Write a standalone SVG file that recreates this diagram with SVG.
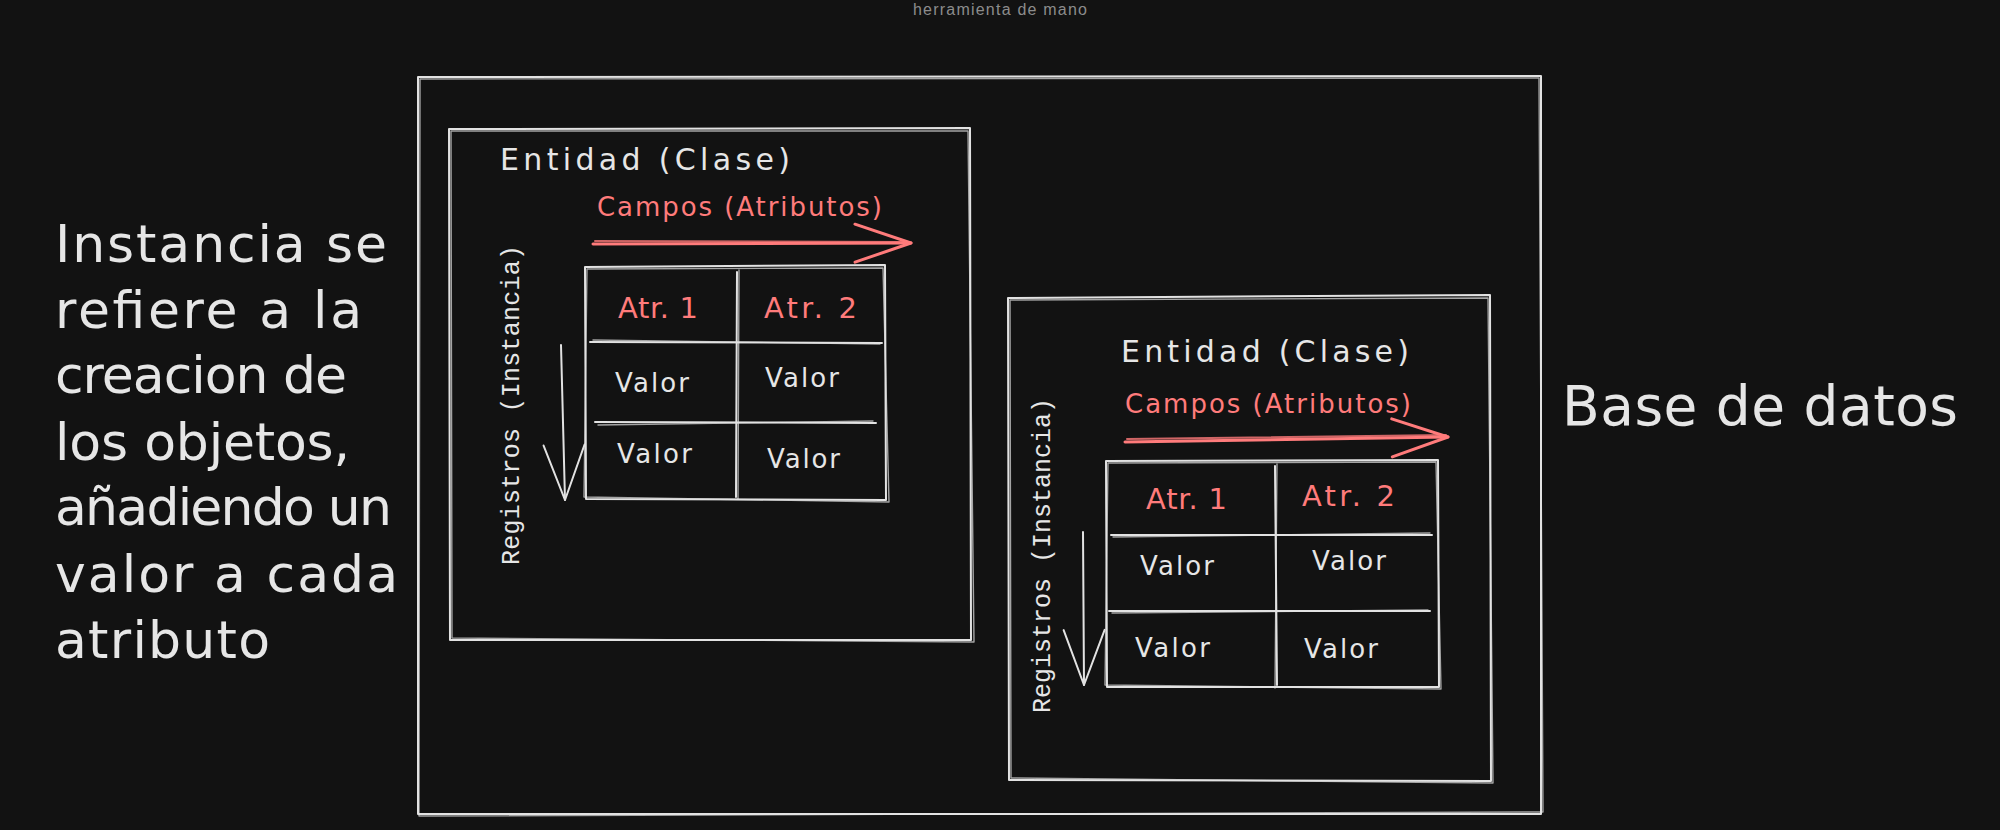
<svg xmlns="http://www.w3.org/2000/svg" width="2000" height="830" viewBox="0 0 2000 830">
<style>
.sk{fill:none;stroke:#e2e2e2;stroke-width:2;stroke-linecap:round;stroke-linejoin:round}
.sk2{fill:none;stroke:#e2e2e2;stroke-width:1.4;stroke-linecap:round;stroke-linejoin:round;opacity:.7}
.rl{fill:none;stroke:#ff7b7b;stroke-width:3;stroke-linecap:round}
.rl2{fill:none;stroke:#ff7b7b;stroke-width:2;stroke-linecap:round;opacity:.8}
.wl{fill:none;stroke:#e2e2e2;stroke-width:2;stroke-linecap:round}
.hand{font-family:"DejaVu Sans","Liberation Sans",sans-serif;fill:#e6e6e6}
.mono{font-family:"Liberation Mono","DejaVu Sans Mono",monospace;fill:#e6e6e6;font-size:25px}
.red{fill:#ff7b7b}
.big{font-size:52px}
.ent{font-size:30px}
.cam{font-size:26px}
.atr{font-size:29px}
.val{font-size:26px}
</style>
<defs>
<marker id="hr" markerUnits="userSpaceOnUse" markerWidth="80" markerHeight="60" refX="0" refY="0" orient="auto" overflow="visible">
<path d="M-56,-19 L0,0 L-56,19" fill="none" stroke="#ff7b7b" stroke-width="3" stroke-linecap="round" stroke-linejoin="round"/>
</marker>
<marker id="hw" markerUnits="userSpaceOnUse" markerWidth="80" markerHeight="60" refX="0" refY="0" orient="auto" overflow="visible">
<path d="M-55,-21 L0,0 L-55,20" fill="none" stroke="#e2e2e2" stroke-width="2" stroke-linecap="round" stroke-linejoin="round"/>
</marker>
</defs>
<rect width="2000" height="830" fill="#121212"/>
<text x="913" y="15" font-family="'Liberation Sans',sans-serif" font-size="16" fill="#8c8c8c" textLength="174">herramienta de mano</text>

<g id="nota-instancia">
<text class="hand big" x="55" y="262" textLength="332">Instancia se</text>
<text class="hand big" x="55" y="328" textLength="307">refiere a la</text>
<text class="hand big" x="55" y="393" textLength="292">creacion de</text>
<text class="hand big" x="55" y="460" textLength="295">los objetos,</text>
<text class="hand big" x="55" y="525" textLength="337">añadiendo un</text>
<text class="hand big" x="55" y="592" textLength="343">valor a cada</text>
<text class="hand big" x="55" y="658" textLength="215">atributo</text>
</g>

<g id="base-de-datos">
<path class="sk" d="M418,77 L1541,76 L1541,814 L418,814 Z"/>
<path class="sk2" d="M420,79 L1539,78 L1543,812 L419,816 Z"/>
<text class="hand" x="1562" y="425" font-size="55" textLength="396">Base de datos</text>
</g>

<g id="entidad-1">
<path class="sk" d="M449,129 L970,128 L971,640 L450,640 Z"/>
<path class="sk2" d="M451,131 L968,131 L974,642 L452,638 Z"/>
<text class="hand ent" x="500" y="170" textLength="290">Entidad (Clase)</text>
<text class="hand cam red" x="597" y="216" textLength="285">Campos (Atributos)</text>
<text class="mono" transform="translate(519,565) rotate(-90)" textLength="320">Registros (Instancia)</text>
</g>

<g id="tabla-1">
<path class="sk" d="M585,267 L885,265 L886,500 L586,499 Z"/>
<path class="sk2" d="M587,269 L883,268 L889,502 L584,497 Z"/>
<path class="sk" d="M737,272 L736,497"/>
<path class="sk2" d="M739,270 L738,499"/>
<path class="sk" d="M590,342 L882,343"/>
<path class="sk2" d="M593,340 L880,344"/>
<path class="sk" d="M595,422 L876,423"/>
<path class="sk2" d="M598,425 L873,421"/>
<text class="hand atr red" x="618" y="318" textLength="80">Atr. 1</text>
<text class="hand atr red" x="764" y="318" textLength="93">Atr. 2</text>
<text class="hand val" x="615" y="392" textLength="74">Valor</text>
<text class="hand val" x="765" y="387" textLength="74">Valor</text>
<text class="hand val" x="617" y="463" textLength="75">Valor</text>
<text class="hand val" x="767" y="468" textLength="73">Valor</text>
</g>

<g id="entidad-2">
<path class="sk" d="M1008,298 L1490,295 L1491,781 L1009,780 Z"/>
<path class="sk2" d="M1010,300 L1488,298 L1493,783 L1011,778 Z"/>
<text class="hand ent" x="1121" y="362" textLength="288">Entidad (Clase)</text>
<text class="hand cam red" x="1125" y="413" textLength="286">Campos (Atributos)</text>
<text class="mono" transform="translate(1050,713) rotate(-90)" textLength="315">Registros (Instancia)</text>
</g>

<g id="tabla-2">
<path class="sk" d="M1106,461 L1438,460 L1439,687 L1107,687 Z"/>
<path class="sk2" d="M1108,463 L1436,462 L1441,689 L1105,685 Z"/>
<path class="sk" d="M1275,466 L1277,685"/>
<path class="sk2" d="M1277,464 L1275,688"/>
<path class="sk" d="M1111,535 L1432,535"/>
<path class="sk2" d="M1113,537 L1430,533"/>
<path class="sk" d="M1109,611 L1430,611"/>
<path class="sk2" d="M1112,613 L1428,610"/>
<text class="hand atr red" x="1146" y="509" textLength="81">Atr. 1</text>
<text class="hand atr red" x="1302" y="506" textLength="93">Atr. 2</text>
<text class="hand val" x="1140" y="575" textLength="74">Valor</text>
<text class="hand val" x="1312" y="570" textLength="74">Valor</text>
<text class="hand val" x="1135" y="657" textLength="75">Valor</text>
<text class="hand val" x="1304" y="658" textLength="74">Valor</text>
</g>

<g id="conectores">
<path class="rl" d="M593,244 L911,243" marker-end="url(#hr)"/>
<path class="rl2" d="M595,241 L909,242"/>
<path class="rl" d="M1125,442 L1448,437" marker-end="url(#hr)"/>
<path class="rl2" d="M1127,439 L1446,435"/>
<path class="wl" d="M561,345 L565,500" marker-end="url(#hw)"/>
<path class="wl" d="M1083,532 L1084,685" marker-end="url(#hw)"/>
</g>
</svg>
